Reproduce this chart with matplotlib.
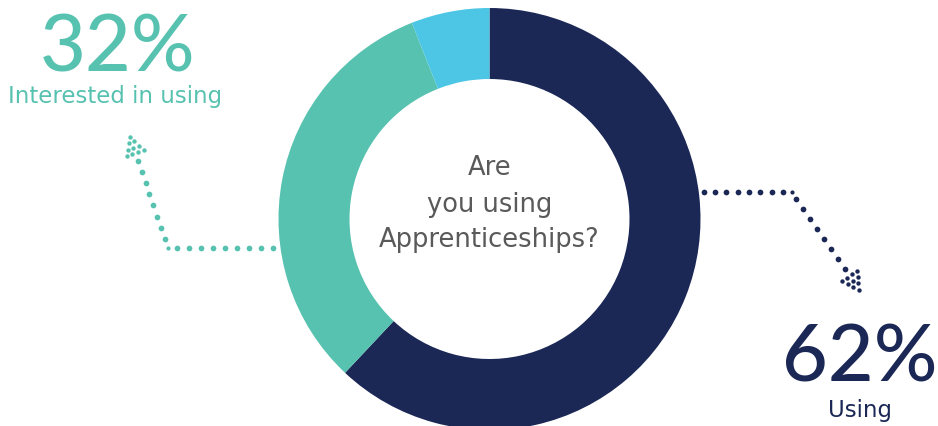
import numpy as np
import matplotlib.pyplot as plt

plt.rcParams['font.family'] = ['DejaVu Sans']

# survey answers
labels = ['Using', 'Interested in using', 'Not interested']
shares = [62, 32, 6]
colors = ['#1b2856', '#57c2b0', '#4dc6e5']
question = ['Are', 'you using', 'Apprenticeships?']

fig = plt.figure(figsize=(9.38, 4.27), dpi=100)
ax = fig.add_axes([0, 0, 1, 1])

# donut, navy first, running clockwise from the top (y axis is flipped below)
cx, cy, r_out, r_in = 489.5, 220, 211, 140
ax.pie(shares, colors=colors, startangle=-90, counterclock=True,
       center=(cx, cy), radius=r_out,
       wedgeprops=dict(width=r_out - r_in, linewidth=0))

ax.set_xlim(0, 938)
ax.set_ylim(427, 0)
ax.set_aspect('equal')
ax.axis('off')

gray = '#5a5a5a'
for line, y in zip(question, [175, 212.5, 247.5]):
    ax.text(cx, y, line, ha='center', va='baseline', fontsize=18.5, color=gray)


def dotted_arrow(start, corner, joint, bend, end, n_flat, n_diag, color):
    # straight run, a small joint dot, then the slanted run
    flat = np.linspace(start, corner, n_flat)
    diag = np.linspace(bend, end, n_diag)
    ax.scatter(flat[:, 0], flat[:, 1], s=17, color=color, lw=0)
    ax.scatter(diag[:, 0], diag[:, 1], s=17, color=color, lw=0)
    ax.scatter([joint[0]], [joint[1]], s=9, color=color, lw=0)
    # triangular head made of small dots
    d = np.array(end) - np.array(bend)
    d = d / np.hypot(*d)
    p = np.array([-d[1], d[0]])
    base = np.array(end) + d * 8.5
    head = []
    for k in range(4):
        n = 4 - k
        for j in range(n):
            head.append(base + d * k * 5.6 + p * (j - (n - 1) / 2) * 6.0)
    head = np.array(head)
    ax.scatter(head[:, 0], head[:, 1], s=10, color=color, lw=0)


dotted_arrow((273, 248.7), (177, 248.7), (167.5, 249), (164.7, 239.7), (138, 162), 9, 8, colors[1])
dotted_arrow((703.7, 192.7), (783, 192.7), (791.5, 193), (796, 199.7), (844.7, 270), 8, 8, colors[0])

# headline figures
big = dict(ha='center', va='baseline', fontsize=57, fontweight='medium',
           family=['Lato', 'DejaVu Sans'])
ax.text(117.5, 72, f'{shares[1]}%', color=colors[1], **big)
ax.text(115, 103, labels[1], ha='center', va='baseline', fontsize=16.5, color=colors[1])
ax.text(860, 382, f'{shares[0]}%', color=colors[0], **big)
ax.text(860, 417, labels[0], ha='center', va='baseline', fontsize=16.5, color=colors[0])

fig.savefig('out.png', dpi=100)
